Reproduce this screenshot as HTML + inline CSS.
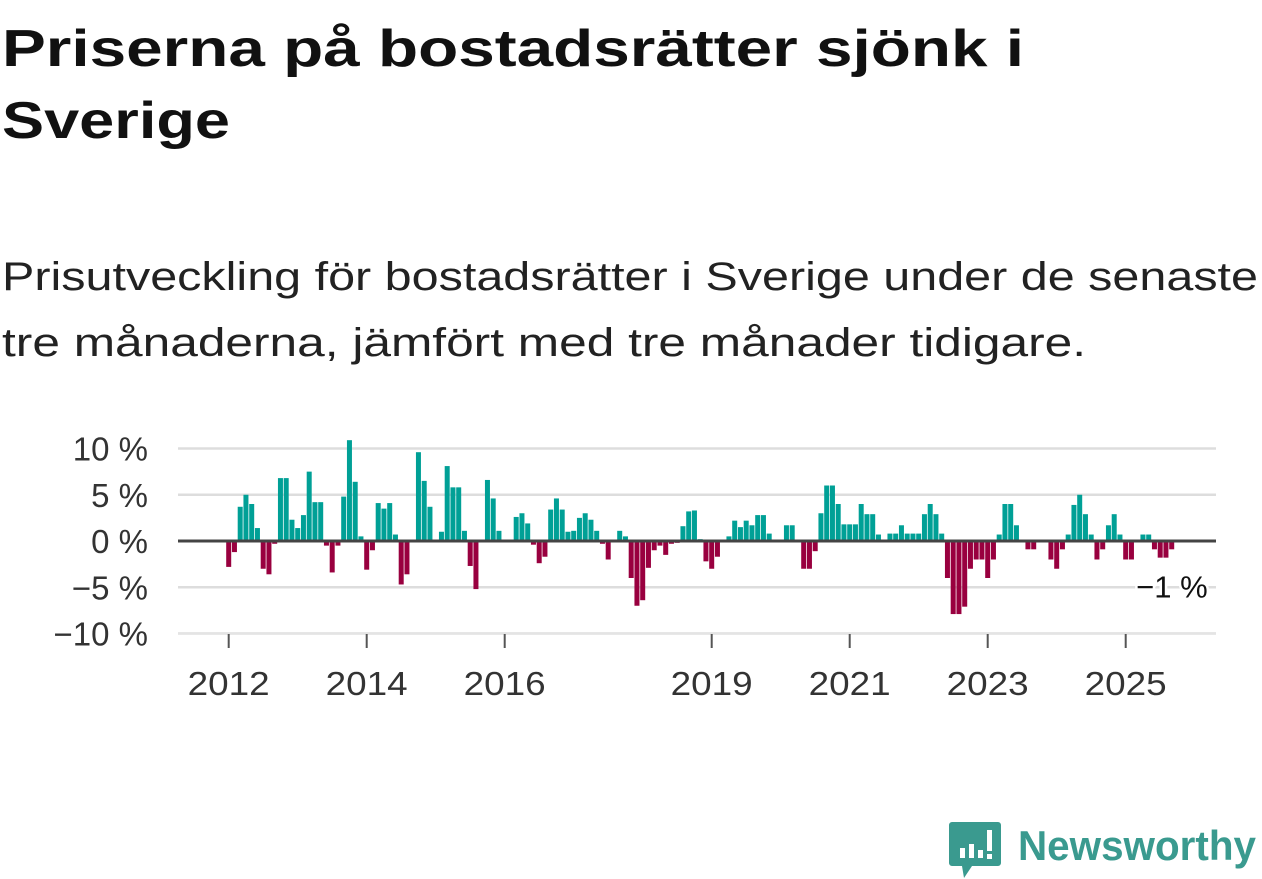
<!DOCTYPE html>
<html><head><meta charset="utf-8">
<style>
html,body{margin:0;padding:0;background:#fff;}
svg{display:block;font-family:"Liberation Sans",sans-serif;}
</style></head>
<body>
<svg id="chart" width="1262" height="879" viewBox="0 0 1262 879" xmlns="http://www.w3.org/2000/svg">
  <text x="2" y="66" font-size="52" font-weight="bold" fill="#111" textLength="1022" lengthAdjust="spacingAndGlyphs">Priserna på bostadsrätter sjönk i</text>
  <text x="2" y="138" font-size="52" font-weight="bold" fill="#111" textLength="228" lengthAdjust="spacingAndGlyphs">Sverige</text>
  <text x="2" y="290" font-size="40" fill="#222" textLength="1256" lengthAdjust="spacingAndGlyphs">Prisutveckling för bostadsrätter i Sverige under de senaste</text>
  <text x="2" y="356" font-size="40" fill="#222" textLength="1084" lengthAdjust="spacingAndGlyphs">tre månaderna, jämfört med tre månader tidigare.</text>
  <g id="grid"></g>
  <g id="bars"></g>
  <g id="axes"></g>
  <g>
    <path d="M952,822 h46 a3,3 0 0 1 3,3 v38 a3,3 0 0 1 -3,3 h-26 l-8,12 l-2,-12 h-10 a3,3 0 0 1 -3,-3 v-38 a3,3 0 0 1 3,-3z" fill="#3a9a8f"/>
    <rect x="960" y="848" width="5" height="10" fill="#fff"/>
    <rect x="969" y="844" width="5" height="14" fill="#fff"/>
    <rect x="978" y="850" width="5" height="8" fill="#fff"/>
    <rect x="987" y="830" width="5" height="21" fill="#fff"/>
    <rect x="987" y="854" width="5" height="5" fill="#fff"/>
    <text x="1018" y="860" font-size="42" font-weight="bold" fill="#3a9a8f" textLength="238" lengthAdjust="spacingAndGlyphs">Newsworthy</text>
  </g>
</svg>
<script>
const values = [
-2.8,-1.2,3.7,5.0,4.0,1.4,-3.0,-3.6,-0.3,6.8,6.8,2.3,1.4,2.8,7.5,4.2,4.2,-0.5,-3.4,-0.5,4.8,10.9,6.4,0.5,-3.1,-1.0,4.1,3.5,4.1,0.7,-4.7,-3.6,0,9.6,6.5,3.7,0,1.0,8.1,5.8,5.8,1.1,-2.7,
-5.2,0,6.6,4.6,1.1,0,0,2.6,3.0,1.9,-0.4,-2.4,-1.7,3.4,4.6,3.4,1.0,1.1,2.5,3.0,2.3,1.1,-0.3,-2.0,0,1.1,0.5,-4.0,-7.0,-6.4,-2.9,-1.0,-0.5,-1.5,-0.3,-0.2,1.6,3.2,3.3,0.2,-2.2,-3.0,
-1.7,0,0.5,2.2,1.5,2.2,1.7,2.8,2.8,0.8,0,0,1.7,1.7,0,-3.0,-3.0,-1.1,3.0,6.0,6.0,4.0,1.8,1.8,1.8,4.0,2.9,2.9,0.7,0,0.8,0.8,1.7,0.8,0.8,0.8,2.9,4.0,2.9,0.8,
-4.0,-7.9,-7.9,-7.1,-3.0,-2.0,-2.0,-4.0,-2.0,0.7,4.0,4.0,1.7,0,-0.9,-0.9,0,0,-2.0,-3.0,-0.9,0.7,3.9,5.0,2.9,0.7,-2.0,-0.9,1.7,2.9,0.7,-2.0,-2.0,0,0.7,0.7,-0.9,-1.8,-1.8,-0.9
];
const startYear = 2012;
const yTicks = [10, 5, 0, -5, -10];
const yTickLabels = ["10 %", "5 %", "0 %", "\u22125 %", "\u221210 %"];
const xTickYears = [2012, 2014, 2016, 2019, 2021, 2023, 2025];
const lastLabel = "\u22121 %";

const NS = "http://www.w3.org/2000/svg";
const plotLeft = 178, plotRight = 1216;
const x0 = 228.7, monthW = 5.75;
function xScale(monthIndex){ return x0 + monthIndex * monthW; }
function yScale(v){ return 541 - v * 9.25; }
function mk(tag, attrs, parent){
  const e = document.createElementNS(NS, tag);
  for (const k in attrs) e.setAttribute(k, attrs[k]);
  parent.appendChild(e);
  return e;
}
const grid = document.getElementById('grid');
const bars = document.getElementById('bars');
const axes = document.getElementById('axes');

yTicks.forEach((t, i) => {
  if (t !== 0) {
    const l = mk('line', {x1: plotLeft, x2: plotRight, y1: yScale(t), y2: yScale(t), stroke: '#dddddd', 'stroke-width': 2.5}, grid);
    
    
  }
  const tx = mk('text', {x: 148, y: yScale(t) + 12, 'font-size': 33, fill: '#333', 'text-anchor': 'end'}, axes);
  tx.textContent = yTickLabels[i];
  
  
});

values.forEach((v, i) => {
  const cx = xScale(i);
  const y = Math.min(yScale(v), yScale(0));
  const h = Math.abs(yScale(v) - yScale(0));
  const r = mk('rect', {x: cx - 2.5, y: y, width: 5, height: h, fill: v >= 0 ? '#00a096' : '#99003f'}, bars);
  
  
});

const zl = mk('line', {x1: plotLeft, x2: plotRight, y1: yScale(0), y2: yScale(0), stroke: '#444', 'stroke-width': 3}, axes);



const bl = mk('line', {x1: plotLeft, x2: plotRight, y1: 634, y2: 634, stroke: '#e6e6e6', 'stroke-width': 1.5}, axes);



xTickYears.forEach(yr => {
  const x = xScale((yr - startYear) * 12);
  const tk = mk('line', {x1: x, x2: x, y1: 634, y2: 648, stroke: '#555', 'stroke-width': 2}, axes);
  
  
  const tx = mk('text', {x: x - 41, y: 695, 'font-size': 33, fill: '#333', textLength: 82, lengthAdjust: 'spacingAndGlyphs'}, axes);
  tx.textContent = String(yr);
  
  
});

const lastX = xScale(values.length - 1);
const lab = mk('text', {x: lastX + 36, y: yScale(values[values.length - 1]) + 48, 'font-size': 31, fill: '#111', 'text-anchor': 'end', stroke: '#fff', 'stroke-width': 5, 'paint-order': 'stroke'}, axes);
lab.textContent = lastLabel;


</script>
</body></html>
